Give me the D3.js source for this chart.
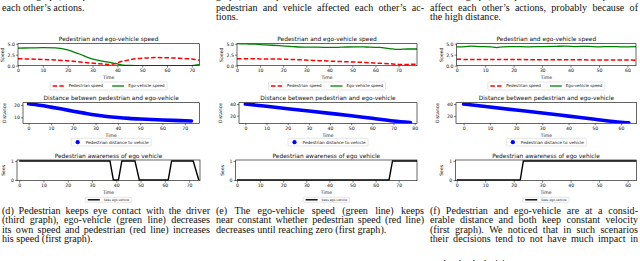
<!DOCTYPE html>
<html>
<head>
<meta charset="utf-8">
<script src="https://cdn.jsdelivr.net/npm/d3@7"></script>
<style>
  body { margin: 0; background: #fff; }
  svg { display: block; }
</style>
</head>
<body>
<svg id="fig" width="640" height="261"></svg>
<script>
// ---- data ----
// (d) speed
const pedTime_d = [0, 10, 19.5, 25, 31.5, 37, 39, 41, 43, 46, 51.6, 55, 59.6, 63, 67.6, 70, 72.3, 73];
const pedSpeed_d = [1.6, 1.4, 1.15, 0.85, 0.5, 0.3, 0.45, 0.85, 1.1, 1.45, 1.75, 1.85, 1.8, 1.75, 1.6, 1.55, 1.3, 1.25];
const egoTime_d = [0, 5, 10, 15, 17, 19.5, 22, 25, 28, 31.5, 35, 37, 40, 42.2, 45, 50, 60, 70, 71.5, 73];
const egoSpeed_d = [4.0, 4.05, 4.1, 4.05, 3.95, 3.65, 3.2, 2.6, 1.9, 1.3, 0.95, 0.75, 0.4, 0.15, 0.05, 0, 0, 0, 0.1, 0.3];
// (e) speed
const pedTime_e = [0, 10, 18.5, 25, 33, 40, 47, 55, 62, 66, 70, 74, 78];
const pedSpeed_e = [1.6, 1.55, 1.5, 1.4, 1.2, 1.05, 0.9, 0.75, 0.55, 0.45, 0.3, 0.3, 0.35];
const egoTime_e = [0, 4, 8, 12, 18.5, 24, 30, 35, 40, 45, 51.7, 56, 61.8, 66, 70, 74, 78];
const egoSpeed_e = [5.0, 4.95, 4.9, 4.75, 4.55, 4.35, 4.2, 4.2, 4.15, 4.2, 4.3, 4.25, 4.15, 3.9, 3.7, 3.8, 3.8];
// (f) speed
const pedTime_f = [0, 10, 20, 30, 40, 50, 60, 63];
const pedSpeed_f = [1.45, 1.4, 1.4, 1.35, 1.35, 1.3, 1.3, 1.2];
const egoTime_f = [0, 3, 5, 8, 12, 14, 16, 20, 25, 30, 35, 38, 42, 46, 50, 54, 58, 63];
const egoSpeed_f = [4.3, 4.35, 4.45, 4.35, 4.3, 4.1, 4.3, 4.35, 4.3, 4.35, 4.4, 4.45, 4.35, 4.4, 4.3, 4.35, 4.3, 4.35];

// distance between pedestrian and ego-vehicle
const distTime_d = [0, 5, 10, 15, 20, 25, 30, 35, 40, 45, 50, 55, 60, 65, 70, 73];
const dist_d = [21, 19.8, 18.3, 16.7, 15, 13.4, 11.9, 10.7, 9.8, 9.1, 8.6, 8.2, 7.8, 7.5, 7.2, 7.0];
const distTime_e = [0, 10, 20, 30, 40, 50, 60, 70, 78];
const dist_e = [40, 36, 32, 28, 24, 20, 15.5, 11, 8.5];
const distTime_f = [0, 10, 20, 30, 40, 50, 60, 63];
const dist_f = [40, 35, 30, 25, 19.8, 14.6, 9.6, 8.5];

// pedestrian awareness (sees ego-vehicle: 0/1)
const seeTime_d = [0, 37.4, 38.8, 40.9, 42.3, 47.7, 49.5, 61.4, 62.8, 71.7, 74];
const sees_d = [1, 1, 0, 0, 1, 1, 0, 0, 1, 1, 0];
const seeTime_e = [0, 65.8, 67.3, 78];
const sees_e = [0, 0, 1, 1];
const seeTime_f = [0, 22.3, 23.4, 63];
const sees_f = [0, 0, 1, 1];

// ticks
const speedTicks = [0, 2.5, 5];
const distTicks_d = [10, 20];
const distTicks_ef = [20, 40];
const seeTicks = [0, 1];
const timeTicks_70 = [0, 10, 20, 30, 40, 50, 60, 70];
const timeTicks_80 = [0, 10, 20, 30, 40, 50, 60, 70, 80];
const timeTicks_60 = [0, 10, 20, 30, 40, 50, 60];

// text
const speedTitle = "Pedestrian and ego-vehicle speed";
const distTitle = "Distance between pedestrian and ego-vehicle";
const seeTitle = "Pedestrian awareness of ego vehicle";
const topText_d = ["the first graph, it is possible to notice how both the",
                   "each other\u2019s actions."];
const topText_e = ["graph, it is possible to notice that both the",
                   "pedestrian and vehicle affected each other\u2019s ac-",
                   "tions."];
const topText_f = ["the first graph, it is possible to notice they do not",
                   "affect each other\u2019s actions, probably because of",
                   "the high distance."];
const caption_d = ["(d) Pedestrian keeps eye contact with the driver",
                   "(third graph), ego-vehicle (green line) decreases",
                   "its own speed and pedestrian (red line) increases",
                   "his speed (first graph)."];
const caption_e = ["(e) The ego-vehicle speed (green line) keeps",
                   "near constant whether pedestrian speed (red line)",
                   "decreases until reaching zero (first graph)."];
const caption_f = ["(f) Pedestrian and ego-vehicle are at a consid-",
                   "erable distance and both keep constant velocity",
                   "(first graph). We noticed that in such scenarios",
                   "their decisions tend to not have much impact in",
                   "each other\u2019s decision."];

// ---- drawing ----
const svg = d3.select("#fig");
const SANS = "DejaVu Sans, sans-serif";
const SERIF = "Liberation Serif, Times New Roman, serif";
let clipId = 0;

function zip(a, b) { return a.map((v, i) => [v, b[i]]); }

// Draw one matplotlib-like subplot, return scales and group
function subplot(c) {
  const x = d3.scaleLinear().domain(c.xdom).range([c.x0, c.x1]);
  const y = d3.scaleLinear().domain(c.ydom).range([c.y1, c.y0]);
  const g = svg.append("g");

  const id = "clip" + (clipId++);
  g.append("clipPath").attr("id", id).append("rect")
    .attr("x", c.x0).attr("y", c.y0).attr("width", c.x1 - c.x0).attr("height", c.y1 - c.y0);
  const plot = g.append("g").attr("clip-path", `url(#${id})`);

  const xa = g.append("g").attr("transform", `translate(0,${c.y1})`)
    .call(d3.axisBottom(x).tickValues(c.xticks).tickSize(2).tickSizeOuter(0).tickPadding(1.2)
      .tickFormat(d3.format("d")));
  const ya = g.append("g").attr("transform", `translate(${c.x0},0)`)
    .call(d3.axisLeft(y).tickValues(c.yticks).tickSize(2).tickSizeOuter(0).tickPadding(1.2)
      .tickFormat(c.yfmt));
  [xa, ya].forEach(a => {
    a.select(".domain").remove();
    a.selectAll("line").attr("stroke", "#000").attr("stroke-width", 0.5);
    a.selectAll("text").attr("font-family", SANS).attr("font-size", 4.6).attr("fill", "#111");
  });

  g.append("rect").attr("x", c.x0).attr("y", c.y0)
    .attr("width", c.x1 - c.x0).attr("height", c.y1 - c.y0)
    .attr("fill", "none").attr("stroke", "#000").attr("stroke-width", 0.6);

  const cx = (c.x0 + c.x1) / 2;
  g.append("text").attr("x", cx).attr("y", c.y0 - 2.3)
    .attr("text-anchor", "middle").attr("font-family", SANS).attr("font-size", 5.9)
    .attr("fill", "#111").text(c.title);
  g.append("text").attr("x", cx).attr("y", c.y1 + 13.3)
    .attr("text-anchor", "middle").attr("font-family", SANS).attr("font-size", 4.6)
    .attr("fill", "#111").text("Time");
  const ly = (c.y0 + c.y1) / 2;
  g.append("text").attr("transform", `translate(${c.x0 - c.ylabOff},${ly}) rotate(-90)`)
    .attr("text-anchor", "middle").attr("font-family", SANS).attr("font-size", 4.6)
    .attr("fill", "#111").text(c.ylabel);

  return { x, y, plot };
}

// Legend box centred at cx, top at ty
function legend(cx, ty, h, fs, items) {
  const g = svg.append("g");
  const box = g.append("rect");
  const pad = 2.5, sw = items[0].type === "dot" ? 8 : 12, gap = 4, colGap = 9;
  let cur = pad;
  const parts = [];
  items.forEach((it, i) => {
    const t = g.append("text").attr("font-family", SANS).attr("font-size", fs)
      .attr("fill", "#111").attr("y", ty + h / 2 + fs * 0.35).text(it.label);
    const w = t.node().getComputedTextLength();
    parts.push({ it, t, sx: cur, tx: cur + sw + gap });
    cur += sw + gap + w + (i < items.length - 1 ? colGap : pad);
  });
  const left = cx - cur / 2;
  box.attr("x", left).attr("y", ty).attr("width", cur).attr("height", h)
    .attr("rx", 0.8).attr("fill", "#fff").attr("stroke", "#ccc").attr("stroke-width", 0.5);
  const my = ty + h / 2;
  parts.forEach(p => {
    p.t.attr("x", left + p.tx);
    if (p.it.type === "dot") {
      g.append("circle").attr("cx", left + p.sx + sw / 2).attr("cy", my).attr("r", 2.1)
        .attr("fill", p.it.color);
    } else {
      g.append("line").attr("x1", left + p.sx).attr("x2", left + p.sx + sw)
        .attr("y1", my).attr("y2", my).attr("stroke", p.it.color)
        .attr("stroke-width", p.it.width).attr("stroke-dasharray", p.it.dash || null);
    }
  });
}

// Justified paragraph lines (last line left aligned)
function paragraph(x, width, ys, lines) {
  lines.forEach((line, li) => {
    const words = line.split(" ");
    const last = li === lines.length - 1;
    const ts = words.map(w => svg.append("text").attr("font-family", SERIF)
      .attr("font-size", 10.1).attr("fill", "#111").attr("y", ys[li]).text(w));
    const ws = ts.map(t => t.node().getComputedTextLength());
    const total = d3.sum(ws);
    const space = last || words.length < 2 ? 2.5 : (width - total) / (words.length - 1);
    let cx = x;
    ts.forEach((t, i) => { t.attr("x", cx); cx += ws[i] + space; });
  });
}

const speedFmt = d3.format(".1f");
const intFmt = d3.format("d");

const panels = [
  { ox: 2, speed: [pedTime_d, pedSpeed_d, egoTime_d, egoSpeed_d], dist: [distTime_d, dist_d],
    see: [seeTime_d, sees_d], top: topText_d, cap: caption_d,
    sx: [18, 199.3, [0, 73]], dx: [23, 199.3, [-2.5, 76.5]], ax: [17, 200, [-0.9, 74.5]],
    dy: [5.1, 21.9], dticks: distTicks_d, ticksS: timeTicks_70, ticksD: timeTicks_70, ticksA: timeTicks_70 },
  { ox: 216, speed: [pedTime_e, pedSpeed_e, egoTime_e, egoSpeed_e], dist: [distTime_e, dist_e],
    see: [seeTime_e, sees_e], top: topText_e, cap: caption_e,
    sx: [237, 417, [0, 78]], dx: [239, 417, [-3, 81.1]], ax: [235.7, 417, [-0.56, 77.9]],
    dy: [7, 42.2], dticks: distTicks_ef, ticksS: timeTicks_70, ticksD: timeTicks_80, ticksA: timeTicks_70 },
  { ox: 430, speed: [pedTime_f, pedSpeed_f, egoTime_f, egoSpeed_f], dist: [distTime_f, dist_f],
    see: [seeTime_f, sees_f], top: topText_f, cap: caption_f,
    sx: [456.7, 636, [0, 63]], dx: [456, 636.7, [-2.9, 66]], ax: [455.3, 636.7, [-0.5, 63.2]],
    dy: [7.8, 42.2], dticks: distTicks_ef, ticksS: timeTicks_60, ticksD: timeTicks_60, ticksA: timeTicks_60 }
];

panels.forEach(p => {
  // speed
  const s = subplot({ x0: p.sx[0], x1: p.sx[1], y0: 43.7, y1: 65.7, xdom: p.sx[2], ydom: [0, 5],
    xticks: p.ticksS, yticks: speedTicks, yfmt: speedFmt, title: speedTitle, ylabel: "Speed", ylabOff: 14 });
  const line = d3.line().x(d => s.x(d[0])).y(d => s.y(d[1])).curve(d3.curveMonotoneX);
  s.plot.append("path").attr("d", line(zip(p.speed[2], p.speed[3])))
    .attr("fill", "none").attr("stroke", "#008000").attr("stroke-width", 1.3);
  s.plot.append("path").attr("d", line(zip(p.speed[0], p.speed[1])))
    .attr("fill", "none").attr("stroke", "#ff0000").attr("stroke-width", 1.5)
    .attr("stroke-dasharray", "4.5,2.2");
  legend((p.sx[0] + p.sx[1]) / 2, 82, 8, 4.0, [
    { type: "line", color: "#ff0000", width: 1.5, dash: "4.5,2.2", label: "Pedestrian speed" },
    { type: "line", color: "#008000", width: 1.3, label: "Ego-vehicle speed" }]);

  // distance
  const d = subplot({ x0: p.dx[0], x1: p.dx[1], y0: 102.7, y1: 123.3, xdom: p.dx[2], ydom: p.dy,
    xticks: p.ticksD, yticks: p.dticks, yfmt: intFmt, title: distTitle, ylabel: "Distance", ylabOff: 17 });
  const dline = d3.line().x(v => d.x(v[0])).y(v => d.y(v[1])).curve(d3.curveMonotoneX);
  d.plot.append("path").attr("d", dline(zip(p.dist[0], p.dist[1])))
    .attr("fill", "none").attr("stroke", "#0000ff").attr("stroke-width", 3.6)
    .attr("stroke-linecap", "round");
  legend((p.dx[0] + p.dx[1]) / 2, 138.3, 7.7, 4.2, [
    { type: "dot", color: "#0000ff", label: "Pedestrian distance to vehicle" }]);

  // awareness
  const a = subplot({ x0: p.ax[0], x1: p.ax[1], y0: 160, y1: 180.7, xdom: p.ax[2], ydom: [-0.037, 1.05],
    xticks: p.ticksA, yticks: seeTicks, yfmt: intFmt, title: seeTitle, ylabel: "Sees", ylabOff: 12 });
  const aline = d3.line().x(v => a.x(v[0])).y(v => a.y(v[1]));
  a.plot.append("path").attr("d", aline(zip(p.see[0], p.see[1])))
    .attr("fill", "none").attr("stroke", "#000").attr("stroke-width", 1.4);
  legend((p.ax[0] + p.ax[1]) / 2, 197.3, 5, 3.0, [
    { type: "line", color: "#000", width: 1.4, label: "Sees ego-vehicle" }]);

  // captions
  const topY = p.top.length === 2 ? [-1.2, 10.5] : [-1.2, 10.5, 20.3];
  paragraph(p.ox, 208, topY, p.top);
  paragraph(p.ox, 208, [213.8, 223.3, 232.8, 242.3, 267], p.cap);
});
</script>
</body>
</html>
